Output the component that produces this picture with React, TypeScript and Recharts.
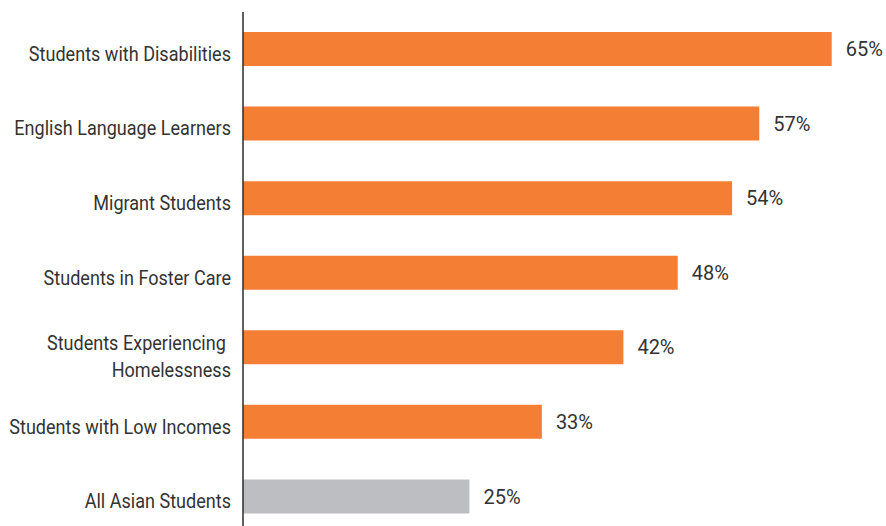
import { BarChart, Bar, XAxis, YAxis, Cell, LabelList } from 'recharts';

const groups = [
  "Students with Disabilities",
  "English Language Learners",
  "Migrant Students",
  "Students in Foster Care",
  "Students Experiencing Homelessness",
  "Students with Low Incomes",
  "All Asian Students"
];

const rates = [65, 57, 54, 48, 42, 33, 25];

const baselineGroup = "All Asian Students";

const data = groups.map((group, i) => ({ group, rate: rates[i] }));

const FONT = 'Roboto, "DejaVu Sans Condensed", sans-serif';

function wrap(text: string, max: number) {
  if (text.length <= 28) return [text];
  const words = text.split(' ');
  const lines: string[] = [];
  let cur = '';
  for (const w of words) {
    if (cur && (cur + ' ' + w).length > max) {
      lines.push(cur);
      cur = w;
    } else {
      cur = cur ? cur + ' ' + w : w;
    }
  }
  if (cur) lines.push(cur);
  return lines;
}

// condensed look: squeeze the text horizontally around its right edge
function GroupTick(props: any) {
  const { x, y, payload } = props;
  const lines = wrap(payload.value, 22);
  const first = lines.length > 1 ? -5 : 4;
  return (
    <g transform={`translate(${x},${y}) scale(0.86,1)`}>
      {lines.map((line, i) => (
        <text
          key={i}
          x={lines.length > 1 && i === 0 ? -6 : 0}
          y={first + i * 26.5}
          dy="0.36em"
          textAnchor="end"
          fill="#333333"
          fontFamily={FONT}
          fontSize={21}
        >
          {line}
        </text>
      ))}
    </g>
  );
}

export default function App() {
  return (
    <div style={{ position: 'absolute', left: 0, top: 0, width: 886, height: 526, overflow: 'hidden', background: '#fff' }}>
      <BarChart
        width={886}
        height={534}
        data={data}
        layout="vertical"
        margin={{ top: 12, right: 9, bottom: 0, left: 0 }}
      >
        <XAxis type="number" domain={[0, 70]} hide />
        <YAxis
          type="category"
          dataKey="group"
          width={243}
          tickSize={0}
          tickMargin={12}
          tickLine={false}
          axisLine={{ stroke: '#2b2b2b', strokeWidth: 1.5 }}
          tick={<GroupTick />}
          interval={0}
        />
        <Bar dataKey="rate" barSize={34} isAnimationActive={false}>
          {data.map((d) => (
            <Cell key={d.group} fill={d.group === baselineGroup ? '#BDBEC1' : '#F47F34'} />
          ))}
          <LabelList
            dataKey="rate"
            position="right"
            offset={14}
            formatter={(v: any) => `${v}%`}
            fill="#333333"
            fontFamily={FONT}
            fontSize={20}
          />
        </Bar>
      </BarChart>
    </div>
  );
}
